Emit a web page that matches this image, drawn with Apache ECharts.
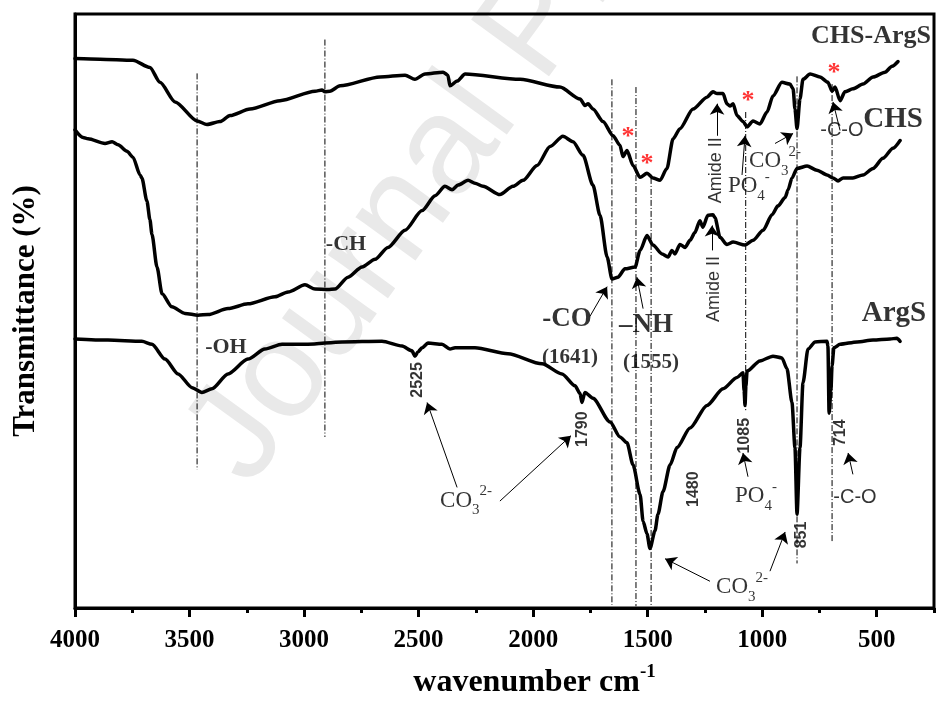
<!DOCTYPE html>
<html>
<head>
<meta charset="utf-8">
<script src="https://cdn.jsdelivr.net/npm/echarts@6/dist/echarts.min.js"></script>
<style>
  html, body { margin: 0; padding: 0; background: #fff; }
  #chart { width: 936px; height: 704px; }
</style>
</head>
<body>
<div id="chart"></div>
<script>
// FTIR spectra: wavenumber (cm-1) and relative transmittance (offset traces)
const wnChsArgs = [4000,3891,3747,3673,3629,3563,3467,3424,3367,3323,3236,3105,2952,2922,2909,2887,2843,2668,2559,2516,2472,2393,2372,2363,2332,2297,2057,1883,1795,1774,1760,1739,1695,1651,1621,1608,1590,1564,1533,1503,1477,1446,1416,1389,1359,1302,1241,1215,1197,1171,1154,1141,1127,1110,1084,1066,1040,1010,979,953,914,879,865,857,848,835,822,791,748,713,695,682,660,639,604,560,516,464,433,407];
const tChsArgs = [92.5,92.4,92.2,91.0,88.5,85.2,82.0,81.4,81.9,82.9,84.0,85.4,87.0,87.2,86.9,87.0,87.9,89.4,89.7,89.0,89.9,90.2,89.7,87.9,88.7,89.9,89.0,87.7,85.7,84.6,84.9,84.0,81.9,79.5,77.9,76.0,77.0,74.5,72.5,73.2,72.4,72.0,74.0,79.0,80.7,84.0,86.0,86.9,86.6,86.6,84.9,84.5,84.9,82.9,81.9,81.0,82.0,81.5,83.5,86.2,88.5,88.2,87.4,84.0,80.7,85.7,89.0,89.9,89.4,88.5,87.0,87.7,85.4,86.9,87.4,88.2,89.4,90.2,91.2,92.0];

const wnChs = [4000,3965,3943,3869,3838,3812,3773,3747,3716,3708,3686,3673,3664,3642,3620,3577,3520,3463,3419,3332,3245,3127,3070,2996,2952,2896,2865,2808,2747,2690,2634,2559,2485,2428,2385,2354,2328,2284,2254,2219,2145,2088,2044,1983,1926,1870,1826,1782,1739,1708,1677,1656,1630,1599,1555,1533,1503,1477,1437,1411,1394,1381,1359,1337,1315,1294,1272,1259,1237,1215,1206,1184,1154,1127,1075,1040,996,957,931,900,887,870,848,804,761,717,691,669,647,604,560,516,473,429,398];
const tChs = [80.5,79.2,79.0,78.2,78.5,78.0,76.9,75.9,72.9,72.4,68.5,65.4,62.9,57.4,52.9,50.7,49.6,49.3,49.4,50.4,51.2,52.4,53.2,54.4,53.7,53.6,53.7,55.7,57.4,58.7,60.7,63.6,66.9,69.4,71.0,70.4,71.2,72.0,71.5,71.0,69.6,71.0,72.0,74.5,77.7,79.4,78.5,76.2,71.2,66.1,59.1,55.4,55.7,57.1,57.4,60.2,62.7,61.1,59.6,59.1,60.2,59.6,61.2,60.7,61.9,63.2,65.2,64.1,66.1,66.2,65.7,62.4,61.2,61.6,61.1,61.9,63.6,66.2,67.7,69.1,70.4,72.4,74.0,74.4,73.7,72.9,72.4,71.9,72.4,72.4,72.9,74.0,75.7,77.4,78.7];

const wnArgs = [4000,3856,3708,3664,3607,3550,3489,3446,3402,3332,3245,3171,3096,2983,2834,2660,2572,2529,2516,2503,2485,2459,2398,2363,2341,2254,2110,1961,1874,1817,1795,1787,1774,1739,1664,1621,1590,1564,1533,1520,1503,1490,1468,1455,1433,1402,1372,1315,1241,1171,1110,1084,1079,1075,1071,1066,1010,953,914,892,870,857,848,835,822,800,769,717,713,708,700,695,687,660,586,516,442,412,398];
const tArgs = [45.3,45.1,44.9,44.4,41.9,39.4,37.1,36.3,36.9,39.4,41.9,43.6,44.4,44.4,44.8,44.9,44.1,43.3,42.4,43.1,43.8,44.6,44.4,43.6,43.8,43.8,42.8,41.1,39.4,37.4,36.1,34.6,36.3,35.3,31.3,28.8,27.8,24.1,19.1,14.6,12.5,10.0,13.0,15.8,19.6,24.1,27.0,30.3,34.1,36.9,38.8,39.6,36.6,34.1,37.4,39.9,41.6,42.4,42.1,40.3,34.6,27.0,15.8,27.0,37.9,43.6,44.8,44.9,44.1,32.8,36.6,40.8,43.8,44.4,44.8,45.1,45.3,45.4,44.9];

// Band guide lines: wavenumber, upper and lower transmittance ends
const guideWn     = [3467, 2909, 1656, 1551, 1485, 1072, 848, 695];
const guideTop    = [90.0, 95.7, 89.0, 87.7, 72.4, 83.5, 89.5, 88.2];
const guideBottom = [23.3, 28.8, 0.5, 0.3, 0.3, 33.3, 7.5, 11.1];

// Axis ticks
const majorTicks = [500, 1000, 1500, 2000, 2500, 3000, 3500, 4000];
const minorTicks = [250, 750, 1250, 1750, 2250, 2750, 3250, 3750];

// Text notes: [text, wavenumber, transmittance, kind]
const notes = [
  ['CHS-ArgS', 525, 96.3, 'title'],
  ['CHS', 429, 82.2, 'name'],
  ['ArgS', 425, 49.6, 'name'],
  ['-CH', 2817, 61.2, 'group'],
  ['-OH', 3341, 43.9, 'group'],
  ['-CO', 1852, 48.6, 'groupLg'],
  ['(1641)', 1839, 42.1, 'paren'],
  ['\u2013NH', 1507, 47.6, 'groupLg'],
  ['(1555)', 1485, 41.3, 'paren'],
  ['Amide II', 1202, 73.7, 'amide'],
  ['Amide II', 1210, 53.7, 'amide'],
  ['PO{sub|4}{sup|-}', 1058, 71.0, 'ion'],
  ['CO{sub|3}{sup|2-}', 944, 75.2, 'ion'],
  ['-C-O', 652, 80.4, 'bond'],
  ['2525', 2503, 38.4, 'peak'],
  ['1790', 1782, 30.1, 'peak'],
  ['1085', 1075, 29.0, 'peak'],
  ['714', 656, 29.5, 'peak'],
  ['1480', 1298, 20.0, 'peak'],
  ['851', 826, 12.3, 'peak'],
  ['CO{sub|3}{sup|2-}', 2293, 18.1, 'ion'],
  ['CO{sub|3}{sup|2-}', 1088, 3.5, 'ion'],
  ['PO{sub|4}{sup|-}', 1027, 18.8, 'ion'],
  ['-C-O', 595, 18.6, 'bond'],
  ['*', 1586, 79.2, 'star'],
  ['*', 1503, 74.7, 'star'],
  ['*', 1062, 85.3, 'star'],
  ['*', 687, 90.0, 'star']
];

// Arrows: [from wavenumber, from T, to wavenumber, to T]
const arrows = [
  [1752, 49.1, 1677, 54.1],
  [1520, 50.4, 1547, 55.7],
  [1197, 79.5, 1197, 84.9],
  [1219, 60.2, 1219, 64.4],
  [1088, 72.9, 1075, 79.5],
  [944, 78.2, 865, 79.9],
  [660, 80.4, 691, 85.2],
  [2332, 20.3, 2463, 34.6],
  [2145, 18.0, 1835, 29.0],
  [1228, 4.5, 1424, 8.3],
  [966, 6.2, 900, 12.8],
  [1062, 22.1, 1084, 26.1],
  [604, 22.5, 625, 26.1]
];

const serif = "'Times New Roman', 'Liberation Serif', serif";
const sans = "Arial, 'Liberation Sans', sans-serif";

const ionRich = {
  sub: { fontFamily: serif, fontSize: 15, lineHeight: 15, verticalAlign: 'bottom', color: '#000' },
  sup: { fontFamily: serif, fontSize: 15, lineHeight: 15, verticalAlign: 'top', color: '#000' }
};

const noteStyles = {
  title:   { fontFamily: serif, fontWeight: 'bold', fontSize: 26 },
  name:    { fontFamily: serif, fontWeight: 'bold', fontSize: 29 },
  group:   { fontFamily: serif, fontWeight: 'bold', fontSize: 22 },
  groupLg: { fontFamily: serif, fontWeight: 'bold', fontSize: 27 },
  paren:   { fontFamily: serif, fontWeight: 'bold', fontSize: 21 },
  ion:     { fontFamily: serif, fontSize: 23, lineHeight: 34, rich: ionRich },
  bond:    { fontFamily: sans, fontSize: 20 },
  amide:   { fontFamily: sans, fontSize: 18, rotate: 90 },
  peak:    { fontFamily: sans, fontWeight: 'bold', fontSize: 16, rotate: 90 },
  star:    { fontFamily: serif, fontWeight: 'bold', fontSize: 26, color: '#ff0000' }
};

const zip = (xs, ys) => xs.map((x, i) => [x, ys[i]]);

function spectrum(name, xs, ys) {
  return {
    name: name,
    type: 'line',
    data: zip(xs, ys),
    showSymbol: false,
    smooth: 0.25,
    smoothMonotone: 'x',
    lineStyle: { color: '#000', width: 3.5, join: 'round', cap: 'round' },
    z: 3,
    animation: false,
    silent: true
  };
}

const guideSeries = guideWn.map((w, i) => ({
  type: 'line',
  data: [[w, guideTop[i]], [w, guideBottom[i]]],
  showSymbol: false,
  lineStyle: { color: '#000', width: 1, type: [6, 2, 1, 2] },
  z: 1,
  animation: false,
  silent: true
}));

// Text notes drawn as labels of invisible points
const noteSeries = {
  type: 'scatter',
  symbolSize: 1,
  itemStyle: { color: 'transparent' },
  z: 5,
  animation: false,
  silent: true,
  data: notes.map(n => ({
    value: [n[1], n[2]],
    label: Object.assign({
      show: true,
      position: 'inside',
      color: '#000',
      formatter: n[0]
    }, noteStyles[n[3]])
  }))
};

// Pointer arrows
const arrowSeries = {
  type: 'line',
  data: [],
  color: '#000',
  z: 4,
  animation: false,
  silent: true,
  markLine: {
    silent: true,
    animation: false,
    symbol: ['none', 'arrow'],
    symbolSize: 11,
    label: { show: false },
    itemStyle: { color: '#000' },
    lineStyle: { color: '#000', width: 1, type: 'solid' },
    emphasis: { disabled: true },
    data: arrows.map(a => [{ coord: [a[0], a[1]] }, { coord: [a[2], a[3]] }])
  }
};

const chart = echarts.init(document.getElementById('chart'), null, { renderer: 'canvas' });

chart.setOption({
  animation: false,
  backgroundColor: '#fff',
  grid: {
    left: 75, right: 2, top: 14, bottom: 89,
    show: true, borderColor: '#000', borderWidth: 3, backgroundColor: 'transparent'
  },
  graphic: [{
    type: 'text',
    x: 275, y: 507,
    rotation: 54 * Math.PI / 180,
    silent: true,
    z: -10,
    style: {
      text: 'Journal Pre-proof',
      fontFamily: sans,
      fontSize: 140,
      fill: '#e9e9e9',
      align: 'left',
      verticalAlign: 'bottom'
    }
  }],
  xAxis: [{
    type: 'value',
    min: 250, max: 4000, interval: 250,
    inverse: true,
    position: 'bottom',
    name: '{a|wavenumber cm}{s|-1}',
    nameLocation: 'middle',
    nameGap: 55,
    nameTextStyle: {
      padding: [0, 0, 0, 60],
      rich: {
        a: { fontFamily: serif, fontWeight: 'bold', fontSize: 32, lineHeight: 40, color: '#000' },
        s: { fontFamily: serif, fontWeight: 'bold', fontSize: 19, lineHeight: 19, verticalAlign: 'top', color: '#000' }
      }
    },
    axisLine: { show: true, lineStyle: { color: '#000', width: 3 } },
    axisTick: { show: true, customValues: majorTicks, length: 9, lineStyle: { color: '#000', width: 3 } },
    axisLabel: {
      customValues: majorTicks,
      formatter: v => (v % 500 === 0 ? String(v) : ''),
      fontFamily: serif, fontWeight: 'bold', fontSize: 25, color: '#000', margin: 20
    },
    splitLine: { show: false }
  }, {
    type: 'value',
    min: 250, max: 4000, interval: 250,
    inverse: true,
    position: 'bottom',
    axisLine: { show: false },
    axisTick: { show: true, customValues: minorTicks, length: 5, lineStyle: { color: '#000', width: 3 } },
    axisLabel: { show: false },
    splitLine: { show: false }
  }],
  yAxis: {
    type: 'value',
    min: 0, max: 100,
    name: 'Transmittance (%)',
    nameLocation: 'middle',
    nameRotate: 90,
    nameGap: 34,
    nameTextStyle: { fontFamily: serif, fontWeight: 'bold', fontSize: 31, color: '#000' },
    axisLine: { show: true, lineStyle: { color: '#000', width: 3 } },
    axisTick: { show: false },
    axisLabel: { show: false },
    splitLine: { show: false }
  },
  series: [
    spectrum('CHS-ArgS', wnChsArgs, tChsArgs),
    spectrum('CHS', wnChs, tChs),
    spectrum('ArgS', wnArgs, tArgs)
  ].concat(guideSeries, [noteSeries, arrowSeries])
});
</script>
</body>
</html>
